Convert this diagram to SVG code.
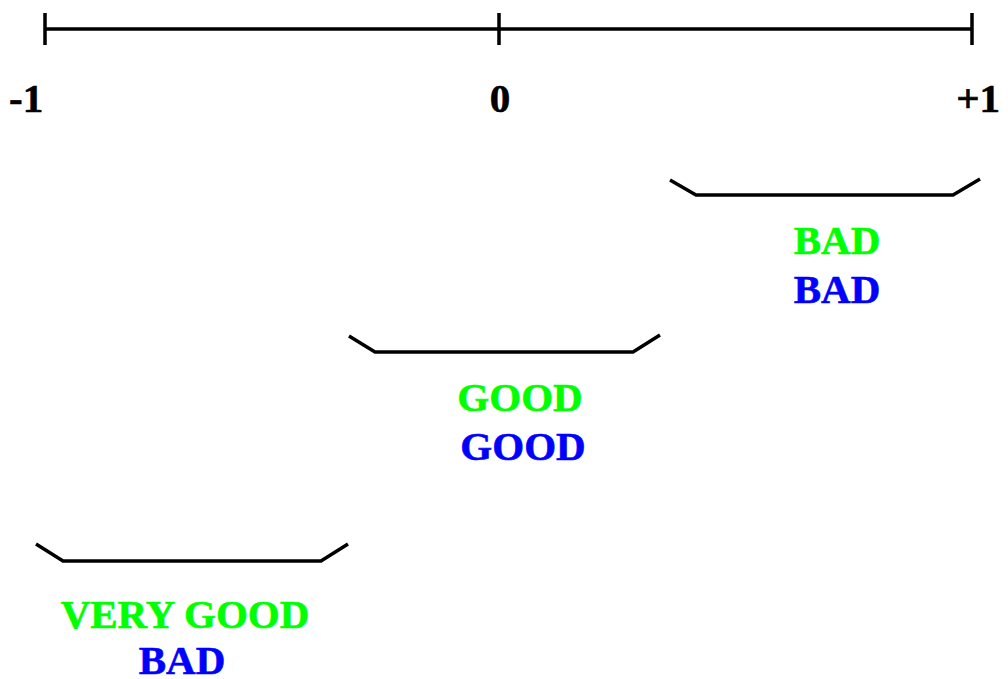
<svg xmlns="http://www.w3.org/2000/svg" width="1008" height="679" viewBox="0 0 1008 679">
  <style>
    .ln { fill: none; stroke: #000; stroke-width: 3.5; }
    .t { font-family: "Liberation Serif", "Times New Roman", serif; font-weight: bold; font-size: 41px; stroke-width: 0.6; }
    .k { fill: #000; stroke: #000; }
    .g { fill: #00ff00; stroke: #00ff00; text-anchor: middle; }
    .b { fill: #0000ff; stroke: #0000ff; text-anchor: middle; }
  </style>
  <rect width="1008" height="679" fill="#fff"/>
  <!-- scale from -1 to +1 -->
  <g id="axis">
    <path class="ln" d="M45 29H972M45 13V45M499 13V45M972 13V45"/>
    <text class="t k" x="9" y="112">-1</text>
    <text class="t k" x="500" y="112" text-anchor="middle">0</text>
    <text class="t k" x="1000" y="112" text-anchor="end">+1</text>
  </g>
  <!-- range brackets with their ratings -->
  <g id="range-high">
    <path class="ln" d="M670 180L696 195H953L980 179"/>
    <text class="t g" x="837" y="254">BAD</text>
    <text class="t b" x="837" y="303">BAD</text>
  </g>
  <g id="range-mid">
    <path class="ln" d="M349 336L375 352H633L660 335"/>
    <text class="t g" x="520" y="411">GOOD</text>
    <text class="t b" x="523" y="460">GOOD</text>
  </g>
  <g id="range-low">
    <path class="ln" d="M36 544L63 561H321L348 544"/>
    <text class="t g" x="185" y="628">VERY GOOD</text>
    <text class="t b" x="182" y="674">BAD</text>
  </g>
</svg>
